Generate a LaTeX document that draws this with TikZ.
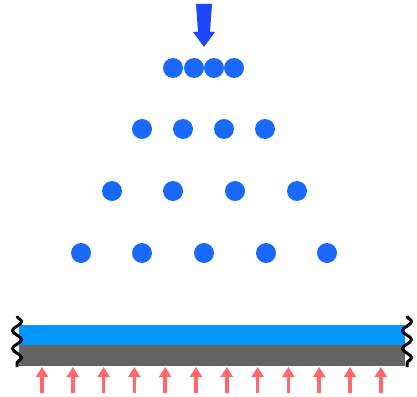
\documentclass[tikz,border=0pt]{standalone}
\usetikzlibrary{arrows.meta,decorations.pathmorphing}
\definecolor{dotblue}{RGB}{25,105,255}
\definecolor{jetblue}{RGB}{30,70,255}
\definecolor{layerblue}{RGB}{0,150,255}
\definecolor{layergray}{RGB}{100,100,100}
\definecolor{flowred}{RGB}{255,105,110}

\begin{document}
\begin{tikzpicture}[x=1pt,y=-1pt,
		droplet/.style={fill=dotblue},
		flowarrow/.style={flowred,line width=3.5pt,-{Triangle[width=12pt,length=10pt]}},
		wavyend/.style={black,line width=3pt,decorate,
			decoration={snake,amplitude=4.5pt,segment length=18pt}}]
		
		\useasboundingbox
		(0,0)
		rectangle
		(417,396);
		
		% spray jet
		\fill[jetblue]
		(196,4) -- (212,4) -- (210,32) -- (215,32)
		-- (204,47) -- (193,32) -- (198,32) -- cycle;
		
		% droplet rows
		\foreach \x in {173,194,214,234}
		\fill[droplet] (\x,68) circle(10);
		
		\foreach \x in {142,183,224,265}
		\fill[droplet] (\x,129) circle(10);
		
		\foreach \x in {112,173,235,297}
		\fill[droplet] (\x,191) circle(10);
		
		\foreach \x in {81,142,204,266,327}
		\fill[droplet] (\x,253) circle(10);
		
		% coated substrate
		\fill[layerblue]
		(19,325)
		rectangle
		(405,345);
		
		\fill[layergray]
		(19,345)
		rectangle
		(405,366);
		
		\draw[wavyend]
		(17,316) -- (17,367);
		
		\draw[wavyend]
		(407,316) -- (407,367);
		
		% heating from below
		\foreach \x in {42,72.8,103.6,134.4,165.2,196,226.8,257.6,288.4,319.2,350,380.8}
		\draw[flowarrow] (\x,393) -- (\x,367);
		
	\end{tikzpicture}
\end{document}
